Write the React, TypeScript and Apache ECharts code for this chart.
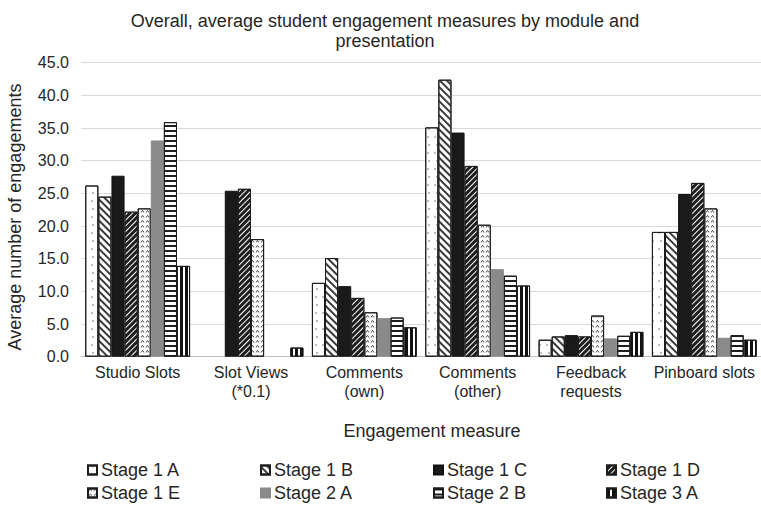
import React, { useEffect, useRef } from 'react';
import * as echarts from 'echarts';

const FONT = '"Liberation Sans", Arial, Helvetica, sans-serif';
const TEXT = '#262626';

const titleLines = ['Overall, average student engagement measures by module and', 'presentation'];
const yAxisName = 'Average number of engagements';
const xAxisName = 'Engagement measure';

const categories = [
  'Studio Slots',
  'Slot Views\n(*0.1)',
  'Comments\n(own)',
  'Comments\n(other)',
  'Feedback\nrequests',
  'Pinboard slots',
];

const seriesNames = ['Stage 1 A', 'Stage 1 B', 'Stage 1 C', 'Stage 1 D', 'Stage 1 E', 'Stage 2 A', 'Stage 2 B', 'Stage 3 A'];

const stage1A = [26.2, null, 11.3, 35.1, 2.6, 19.1];
const stage1B = [24.5, null, 15.1, 42.4, 3.1, 19.1];
const stage1C = [27.7, 25.4, 10.8, 34.3, 3.3, 24.9];
const stage1D = [22.2, 25.7, 9.0, 29.2, 3.1, 26.6];
const stage1E = [22.7, 18.0, 6.8, 20.2, 6.3, 22.7];
const stage2A = [33.1, null, 5.9, 13.4, 2.8, 2.9];
const stage2B = [35.9, null, 6.0, 12.4, 3.2, 3.3];
const stage3A = [13.9, 1.4, 4.5, 10.9, 3.8, 2.6];

const seriesValues = [stage1A, stage1B, stage1C, stage1D, stage1E, stage2A, stage2B, stage3A];

const yMin = 0;
const yMax = 45;
const yInterval = 5;

const legendColumns = [
  ['Stage 1 A', 'Stage 1 E'],
  ['Stage 1 B', 'Stage 2 A'],
  ['Stage 1 C', 'Stage 2 B'],
  ['Stage 1 D', 'Stage 3 A'],
];

const DARK = '#1c1c1c';

const styles: any[] = [
  {
    color: '#ffffff',
    borderColor: DARK,
    decal: { symbol: 'circle', symbolSize: 0.7, color: '#555', dashArrayX: [[2, 5], [0, 3.5, 2, 1.5]], dashArrayY: [2, 6], rotation: 0 },
  },
  {
    color: '#ffffff',
    borderColor: DARK,
    decal: { symbol: 'rect', symbolSize: 1, color: '#3a3a3a', dashArrayX: [1, 0], dashArrayY: [1.4, 2.2], rotation: Math.PI / 4 },
  },
  { color: '#1a1a1a', borderColor: '#111', decal: null },
  {
    color: '#1e1e1e',
    borderColor: DARK,
    decal: { symbol: 'rect', symbolSize: 1, color: '#ffffff', dashArrayX: [1, 0], dashArrayY: [1, 2.4], rotation: -Math.PI / 4 },
  },
  {
    color: '#ffffff',
    borderColor: DARK,
    decal: {
      symbol: 'path://M0,6 L5,0 L10,6 L10,9 L5,3 L0,9Z',
      symbolSize: 1,
      color: '#2a2a2a',
      dashArrayX: [5, 0],
      dashArrayY: [3, 1.2],
      rotation: 0,
    },
  },
  { color: '#8a8a8a', borderColor: '#8a8a8a', decal: null },
  {
    color: '#ffffff',
    borderColor: DARK,
    decal: { symbol: 'rect', symbolSize: 1, color: '#1e1e1e', dashArrayX: [1, 0], dashArrayY: [1.5, 2.6], rotation: 0 },
  },
  {
    color: '#ffffff',
    borderColor: DARK,
    decal: { symbol: 'rect', symbolSize: 1, color: '#111111', dashArrayX: [2.6, 1.6], dashArrayY: [1, 0], rotation: 0 },
  },
];

export default function App() {
  const ref = useRef<HTMLDivElement>(null);

  useEffect(() => {
    document.body.style.margin = '0';
    if (!ref.current) return;
    const chart = echarts.init(ref.current, null, { renderer: 'svg' });

    const option: any = {
      animation: false,
      backgroundColor: '#ffffff',
      textStyle: { fontFamily: FONT },
      aria: { enabled: false },
      title: {
        text: titleLines.join('\n'),
        left: 380,
        top: 6,
        textAlign: 'center',
        textStyle: { fontFamily: FONT, fontSize: 18, fontWeight: 'normal', color: TEXT, lineHeight: 20 },
      },
      grid: { left: 81, right: -4, top: 62.7, bottom: 505 - 356.7, containLabel: false },
      xAxis: {
        type: 'category',
        data: categories,
        axisLine: { show: true, lineStyle: { color: '#bfbfbf', width: 1 } },
        axisTick: { show: false },
        axisLabel: { fontFamily: FONT, fontSize: 16, color: TEXT, lineHeight: 19, margin: 6, interval: 0 },
      },
      yAxis: {
        type: 'value',
        min: yMin,
        max: yMax,
        interval: yInterval,
        axisLine: { show: false },
        axisTick: { show: false },
        splitLine: { lineStyle: { color: '#d9d9d9', width: 1 } },
        axisLabel: {
          fontFamily: FONT,
          fontSize: 16,
          color: TEXT,
          margin: 12,
          formatter: (v: number) => v.toFixed(1),
        },
      },
      legend: legendColumns.map((col, i) => ({
        data: col,
        orient: 'vertical',
        left: [87, 260, 433, 606][i],
        top: 461,
        itemGap: 5,
        itemWidth: 9,
        itemHeight: 9,
        icon: 'rect',
        padding: 0,
        selectedMode: false,
        textStyle: { fontFamily: FONT, fontSize: 18, color: TEXT, lineHeight: 18, padding: [0, 0, 0, -1] },
      })),
      graphic: [
        {
          type: 'text',
          x: 432,
          y: 431,
          style: { text: xAxisName, font: `18px ${FONT}`, fill: TEXT, align: 'center', verticalAlign: 'middle' },
        },
        {
          type: 'text',
          x: 15,
          y: 217,
          rotation: Math.PI / 2,
          style: { text: yAxisName, font: `18px ${FONT}`, fill: TEXT, align: 'center', verticalAlign: 'middle' },
        },
      ],
      series: seriesNames.map((name, i) => ({
        name,
        type: 'bar',
        data: seriesValues[i],
        barGap: '0%',
        barCategoryGap: '7.5%',
        itemStyle: { ...styles[i], borderWidth: 1 },
        emphasis: { disabled: true },
      })),
    };

    chart.setOption(option);
    return () => chart.dispose();
  }, []);

  return <div ref={ref} style={{ width: 761, height: 505 }} />;
}
